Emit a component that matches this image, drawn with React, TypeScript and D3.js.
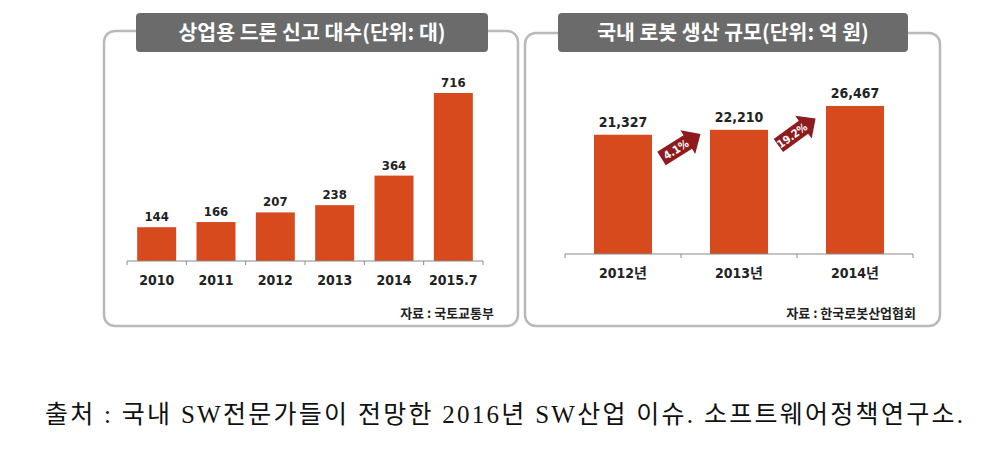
import * as d3 from 'd3'

const W = 1001
const H = 472

// left chart: commercial drone registrations
const droneYears = ['2010', '2011', '2012', '2013', '2014', '2015.7']
const droneCounts = [144, 166, 207, 238, 364, 716]

// right chart: domestic robot production (100M won)
const robotYears = ['2012년', '2013년', '2014년']
const robotValues = [21327, 22210, 26467]

const titles = ['상업용 드론 신고 대수(단위: 대)', '국내 로봇 생산 규모(단위: 억 원)']
const sources = ['자료 : 국토교통부', '자료 : 한국로봇산업협회']
const caption = '출처 : 국내 SW전문가들이 전망한 2016년 SW산업 이슈. 소프트웨어정책연구소.'

const BAR = '#d64a1e'
const ARROW = '#8e1c1f'
const FRAME = '#b9b9b9'
const BANNER = '#6b6b6b'
const KR = "'Noto Sans CJK KR', 'Noto Sans', sans-serif"
const NARROW = "'DejaVu Sans Condensed', 'DejaVu Sans', sans-serif"

function Panel({ x0, x1, y0, y1, bx0, bx1, title, source }: any) {
  return (
    <g>
      <rect x={x0} y={y0} width={x1 - x0} height={y1 - y0} rx={11} fill="#fff" stroke={FRAME} strokeWidth={2.5} />
      <rect x={bx0} y={13} width={bx1 - bx0} height={39} rx={4} fill={BANNER} />
      <text x={(bx0 + bx1) / 2} y={40} textAnchor="middle" fill="#fff" fontFamily={KR} fontWeight={700} fontSize={20.5}>
        {title}
      </text>
      <text x={x1 - 24} y={318} textAnchor="end" fill="#222" fontFamily={KR} fontWeight={700} fontSize={13}>
        {source}
      </text>
    </g>
  )
}

function BarChart({ cats, vals, range, base, top, pad, fmt, valueGap, fontV }: any) {
  const x = d3.scaleBand<string>().domain(cats).range(range).paddingInner(pad).paddingOuter(pad / 2)
  const y = d3.scaleLinear().domain([0, d3.max(vals as number[])!]).range([base, top])
  const bounds = d3.range(cats.length + 1).map((i) => range[0] + i * x.step())
  return (
    <g>
      {cats.map((c: string, i: number) => (
        <g key={c}>
          <rect x={x(c)} y={y(vals[i])} width={x.bandwidth()} height={base - y(vals[i])} fill={BAR} />
          <text x={x(c)! + x.bandwidth() / 2} y={y(vals[i]) - valueGap} textAnchor="middle"
            fontFamily={NARROW} fontWeight={700} fontSize={fontV} fill="#222">{fmt(vals[i])}</text>
          <text x={x(c)! + x.bandwidth() / 2} y={base + 24} textAnchor="middle"
            fontFamily={`'DejaVu Sans Condensed', ${KR}`} fontWeight={700} fontSize={14} fill="#222">{c}</text>
        </g>
      ))}
      <line x1={range[0]} x2={range[1]} y1={base} y2={base} stroke="#8a8a8a" strokeWidth={1.2} />
      {bounds.map((bx: number, i: number) => (
        <line key={i} x1={bx} x2={bx} y1={base} y2={base + 4} stroke="#8a8a8a" strokeWidth={1} />
      ))}
    </g>
  )
}

function GrowthArrows() {
  const range: [number, number] = [565, 913]
  const base = 254
  const x = d3.scaleBand<string>().domain(robotYears).range(range).paddingInner(0.5).paddingOuter(0.25)
  const y = d3.scaleLinear().domain([0, d3.max(robotValues)!]).range([base, 106])
  const fmtPct = d3.format('.1f')
  return (
    <g>
      {robotValues.slice(1).map((v, i) => {
        const prev = robotValues[i]
        const cx = (x(robotYears[i])! + x.bandwidth() + x(robotYears[i + 1])!) / 2
        const cy = (y(prev) + y(v)) / 2 + 14
        const label = `${fmtPct(((v - prev) / prev) * 100)}%`
        const ang = i === 0 ? -32 : -36
        return (
          <g key={i} transform={`translate(${cx},${cy}) rotate(${ang})`}>
            <path d="M-23,-8 L8,-8 L8,-14 L23,0 L8,14 L8,8 L-23,8 Z" fill={ARROW} />
            <text x={-6} y={4} textAnchor="middle" fill="#fff" fontFamily={NARROW} fontWeight={700} fontSize={11}>{label}</text>
          </g>
        )
      })}
    </g>
  )
}

export default function App() {
  return (
    <svg width={W} height={H} style={{ position: 'absolute', left: 0, top: 0, background: '#fff' }}>
      <rect width={W} height={H} fill="#fff" />
      <Panel x0={104} x1={518} y0={31} y1={326} bx0={136} bx1={488} title={titles[0]} source={sources[0]} />
      <Panel x0={525} x1={940} y0={33} y1={326} bx0={558} bx1={908} title={titles[1]} source={sources[1]} />
      <BarChart cats={droneYears} vals={droneCounts} range={[127, 483]} base={261} top={93} pad={0.343}
        fmt={(v: number) => String(v)} valueGap={6} fontV={13} />
      <BarChart cats={robotYears} vals={robotValues} range={[565, 913]} base={254} top={106} pad={0.5}
        fmt={d3.format(',')} valueGap={8} fontV={14} />
      <GrowthArrows />
      <text x={45} y={423} textLength={918} lengthAdjust="spacing" fill="#111"
        fontFamily={`'Liberation Serif', ${KR}`} fontSize={25}>{caption}</text>
    </svg>
  )
}
